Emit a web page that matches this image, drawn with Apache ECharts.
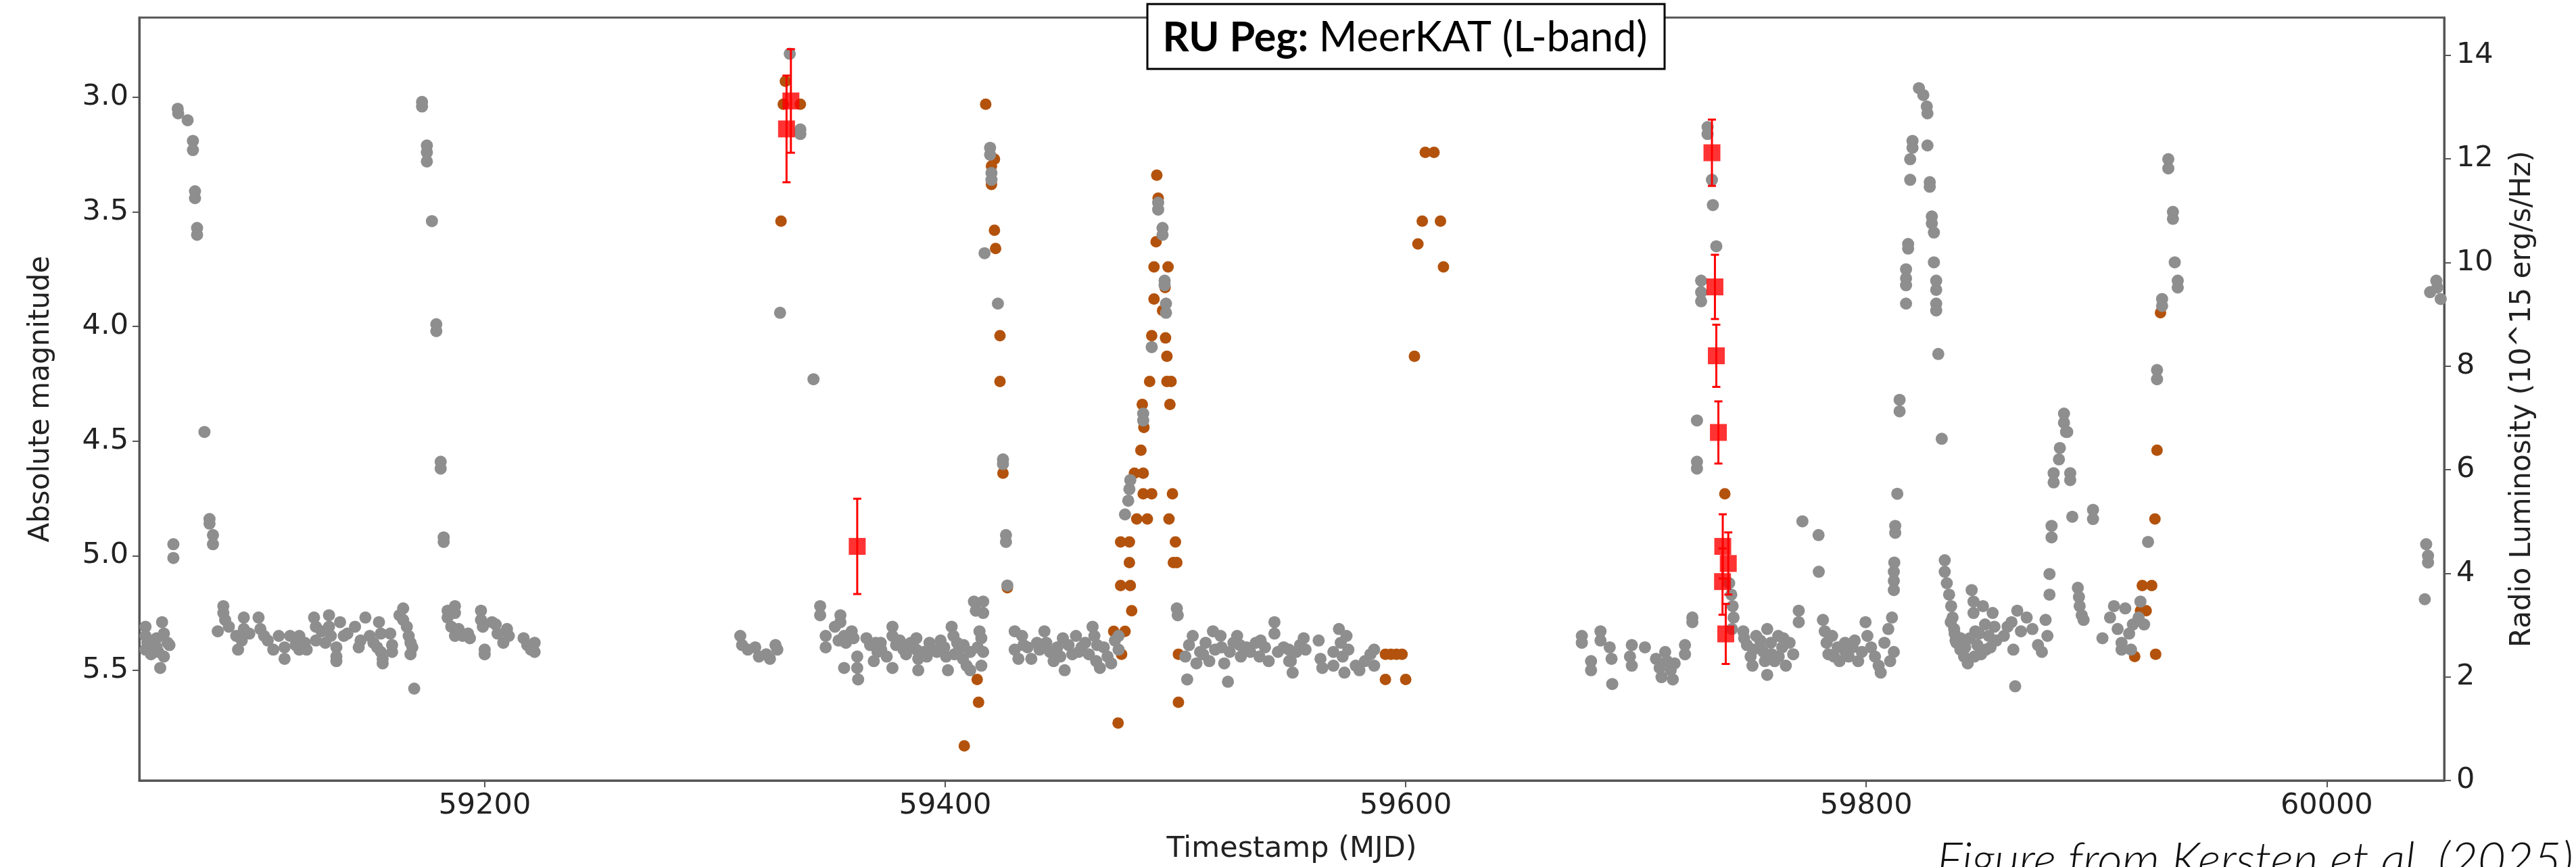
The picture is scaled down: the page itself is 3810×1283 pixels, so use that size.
<!DOCTYPE html>
<html>
<head>
<meta charset="utf-8">
<script src="https://cdn.jsdelivr.net/npm/echarts@6/dist/echarts.min.js"></script>
<style>
html,body{margin:0;padding:0;background:#fff;}
#chart{width:3810px;height:1283px;}
</style>
</head>
<body>
<div id="chart"></div>
<script>
// ---------------- data ----------------
const xTicks = [59200, 59400, 59600, 59800, 60000];
const magTicks = [3.0, 3.5, 4.0, 4.5, 5.0, 5.5];
const lumTicks = [0, 2, 4, 6, 8, 10, 12, 14];

// optical magnitudes (grey)
const grayPoints = [
[59066.7,3.05],[59066.9,3.07],[59071.0,3.10],[59073.3,3.19],[59073.3,3.23],[59074.2,3.41],[59074.2,3.44],[59075.1,3.57],[59075.1,3.60],[59078.3,4.46],[59080.5,4.84],[59080.5,4.86],[59082.0,4.91],[59082.0,4.95],[59064.8,4.95],[59064.8,5.01],
[59172.8,3.02],[59172.8,3.04],[59174.9,3.21],[59174.9,3.24],[59174.9,3.28],[59177.1,3.54],[59179.0,3.99],[59179.0,4.02],[59180.9,4.59],[59180.9,4.62],[59182.2,4.92],[59182.2,4.94],
[59052.7,5.31],[59052.7,5.35],[59053.5,5.38],[59052.7,5.41],[59055.1,5.43],[59057.5,5.36],[59057.5,5.40],[59058.3,5.42],
[59059.9,5.29],[59060.7,5.34],[59062.3,5.38],[59063.1,5.39],[59060.7,5.44],[59059.1,5.49],
[59084.1,5.33],[59086.5,5.22],[59086.5,5.25],[59087.3,5.28],[59088.9,5.31],[59092.1,5.35],[59092.9,5.41],[59095.4,5.27],[59095.4,5.32],[59094.5,5.37],[59097.8,5.34],
[59101.8,5.27],[59102.6,5.32],[59104.2,5.35],[59105.8,5.37],[59108.2,5.41],[59110.6,5.35],[59113.1,5.40],[59113.1,5.45],[59115.5,5.35],[59117.9,5.39],[59119.5,5.35],[59119.5,5.41],
[59121.9,5.38],[59122.7,5.41],[59125.9,5.27],[59126.7,5.31],[59126.7,5.37],[59129.2,5.33],[59130.8,5.38],[59132.4,5.26],[59132.4,5.31],[59133.2,5.35],[59135.6,5.40],[59135.6,5.44],[59135.6,5.46],
[59137.2,5.29],[59138.8,5.35],[59140.4,5.34],[59143.7,5.31],[59145.3,5.40],[59146.1,5.37],[59148.2,5.27],[59150.1,5.35],[59151.7,5.38],[59154.1,5.29],[59154.9,5.34],[59153.3,5.40],[59154.9,5.42],[59155.7,5.45],[59155.7,5.47],
[59159.0,5.34],[59159.8,5.39],[59159.8,5.42],[59163.0,5.26],[59164.6,5.23],[59164.6,5.28],[59166.2,5.31],[59167.0,5.35],[59167.8,5.38],[59168.6,5.40],[59167.8,5.43],[59169.4,5.58],
[59183.9,5.24],[59183.9,5.27],[59185.5,5.31],[59187.1,5.22],[59187.1,5.25],[59187.1,5.35],[59188.7,5.32],[59190.4,5.35],[59192.8,5.34],[59193.6,5.36],
[59198.4,5.24],[59198.4,5.28],[59199.2,5.31],[59200.0,5.41],[59200.0,5.43],[59203.2,5.29],[59204.8,5.30],[59205.6,5.34],[59208.1,5.38],[59209.7,5.32],[59210.5,5.35],
[59216.9,5.36],[59218.5,5.39],[59220.1,5.41],[59221.7,5.38],[59221.7,5.42],
[59332.5,2.81],[59337.1,3.14],[59337.1,3.16],[59328.3,3.94],[59342.8,4.23],
[59311.0,5.35],[59311.8,5.39],[59314.3,5.41],[59317.5,5.40],[59319.1,5.44],[59322.3,5.43],[59323.9,5.45],[59326.3,5.39],[59327.1,5.41],
[59345.7,5.22],[59345.7,5.26],[59348.1,5.35],[59348.1,5.40],[59352.1,5.31],[59354.5,5.26],[59354.5,5.29],[59353.7,5.37],[59356.1,5.35],[59356.9,5.38],[59359.4,5.33],[59360.2,5.36],
[59356.1,5.49],[59361.8,5.44],[59361.8,5.49],[59362.2,5.54],
[59365.8,5.36],[59367.4,5.39],[59369.8,5.38],[59370.6,5.42],[59369.0,5.46],[59372.2,5.41],[59374.6,5.44],[59377.1,5.31],[59377.1,5.35],[59377.1,5.49],[59378.7,5.39],[59380.3,5.37],
[59381.9,5.41],[59383.5,5.39],[59385.1,5.38],[59387.5,5.36],[59387.5,5.41],[59388.3,5.45],[59388.3,5.50],[59390.8,5.42],[59393.2,5.38],[59394.8,5.41],[59396.4,5.42],[59399.6,5.40],
[59400.4,5.44],[59401.2,5.50],[59402.8,5.31],[59403.6,5.35],[59405.2,5.38],[59406.0,5.41],[59407.7,5.45],[59409.3,5.48],[59410.9,5.42],[59410.9,5.50],[59412.5,5.20],[59413.3,5.24],
[59414.1,5.40],[59414.9,5.33],[59415.7,5.36],[59416.5,5.20],[59416.5,5.25],[59416.5,5.42],[59415.7,5.48],
[59372.0,5.38],[59383.0,5.43],[59392.0,5.44],[59398.0,5.37],[59404.0,5.43],[59408.0,5.39],
[59419.5,3.22],[59419.5,3.25],[59420.1,3.33],[59420.1,3.36],[59417.1,3.68],[59422.9,3.90],[59425.1,4.58],[59425.1,4.60],[59426.4,4.91],[59426.4,4.94],[59427.0,5.13],
[59430.2,5.33],[59430.2,5.41],[59431.8,5.45],[59433.4,5.35],[59435.8,5.40],[59437.4,5.45],[59439.9,5.38],[59443.1,5.33],[59443.9,5.38],[59445.5,5.42],[59447.1,5.46],[59448.7,5.40],
[59451.1,5.36],[59451.9,5.50],[59453.6,5.39],[59455.2,5.43],[59456.8,5.35],[59459.2,5.40],[59460.8,5.38],[59462.4,5.43],[59464.0,5.31],[59464.8,5.35],[59465.6,5.46],[59467.2,5.49],
[59468.9,5.40],[59470.5,5.44],[59472.1,5.47],[59473.7,5.37],[59475.3,5.35],[59475.3,5.41],
[59441.0,5.41],[59450.0,5.44],[59458.0,5.42],[59466.0,5.39],[59434.0,5.39],
[59480.4,4.67],[59480.0,4.71],[59479.5,4.76],[59478.1,4.82],[59486.0,4.38],[59486.0,4.41],
[59492.5,3.46],[59492.5,3.49],[59494.4,3.57],[59494.4,3.60],[59495.3,3.80],[59495.3,3.82],[59495.9,3.90],[59495.9,3.94],[59489.7,4.09],
[59500.6,5.23],[59501.0,5.26],
[59504.3,5.44],[59505.1,5.54],[59505.9,5.39],[59507.5,5.35],[59509.1,5.47],[59510.7,5.42],[59513.1,5.38],[59514.7,5.46],[59516.3,5.33],[59517.2,5.41],[59519.6,5.35],[59521.2,5.47],
[59522.8,5.55],[59523.6,5.42],[59525.2,5.38],[59526.8,5.35],[59528.4,5.44],[59530.9,5.40],[59532.5,5.42],[59534.9,5.38],[59536.5,5.44],[59538.9,5.40],[59540.5,5.46],[59543.0,5.29],
[59543.0,5.34],[59544.5,5.42],[59547.0,5.40],[59549.4,5.46],[59512.0,5.43],[59520.0,5.40],[59528.0,5.39],[59537.0,5.37],
[59549.3,5.41],[59550.1,5.46],[59550.9,5.51],[59552.5,5.42],[59554.1,5.39],[59555.7,5.36],[59556.5,5.41],[59562.2,5.37],[59563.0,5.45],[59563.8,5.49],
[59568.6,5.42],[59568.6,5.48],[59571.0,5.32],[59571.8,5.38],[59572.6,5.44],[59573.4,5.51],[59574.3,5.35],[59575.1,5.41],
[59578.3,5.48],[59579.9,5.50],[59582.3,5.46],[59584.7,5.43],[59586.3,5.41],[59586.3,5.48],
[59676.5,5.35],[59676.5,5.38],[59684.6,5.33],[59684.6,5.37],[59680.5,5.46],[59680.5,5.50],[59688.6,5.40],[59689.4,5.45],[59689.7,5.56],[59697.4,5.44],[59698.2,5.48],[59698.2,5.39],[59703.9,5.40],
[59708.7,5.45],[59710.3,5.49],[59711.1,5.53],[59712.7,5.42],[59713.5,5.46],[59715.1,5.50],[59716.0,5.54],[59716.8,5.47],[59721.3,5.39],[59721.3,5.43],[59724.5,5.27],[59724.5,5.29],
[59731.1,3.13],[59731.1,3.16],[59733.0,3.36],[59733.4,3.47],[59734.9,3.65],[59728.3,3.80],[59728.3,3.85],[59728.3,3.89],[59726.5,4.41],[59726.5,4.59],[59726.5,4.62],
[59740.5,5.12],[59741.4,5.17],[59742.0,5.22],[59742.4,5.27],[59741.7,5.32],
[59746.6,5.33],[59748.2,5.39],[59749.8,5.44],[59750.6,5.48],[59752.2,5.35],[59753.8,5.40],[59755.4,5.42],[59757.0,5.32],[59757.0,5.52],[59758.6,5.38],[59760.2,5.46],[59761.8,5.35],
[59763.5,5.40],[59765.1,5.48],[59766.7,5.38],[59768.3,5.43],[59770.7,5.24],[59770.7,5.29],
[59751.0,5.41],[59756.0,5.46],[59759.0,5.43],[59762.0,5.44],[59764.0,5.36],[59747.0,5.36],[59754.0,5.37],
[59772.3,4.85],[59779.3,4.91],[59779.4,5.07],
[59781.2,5.28],[59782.0,5.33],[59782.8,5.38],[59783.6,5.43],[59785.2,5.35],[59787.6,5.40],[59788.4,5.46],[59790.8,5.38],[59792.4,5.44],[59794.1,5.40],[59796.5,5.46],[59798.1,5.42],[59799.7,5.29],
[59786.0,5.44],[59791.0,5.42],[59795.0,5.37],
[59800.5,5.35],[59802.1,5.40],[59803.8,5.44],[59805.4,5.48],[59806.3,5.51],[59807.9,5.38],[59809.6,5.32],[59811.2,5.27],[59812.0,5.42],[59810.4,5.46],
[59812.0,5.07],[59812.0,5.11],[59812.0,5.15],[59813.5,4.73],[59812.6,4.87],[59812.6,4.90],[59812.2,5.03],[59814.5,4.32],[59814.5,4.37],
[59822.9,2.96],[59824.8,2.99],[59826.3,3.04],[59826.6,3.07],[59820.1,3.19],[59820.1,3.22],[59819.1,3.27],[59826.6,3.21],[59819.1,3.36],[59827.6,3.37],[59827.6,3.39],[59828.5,3.52],
[59828.5,3.55],[59829.4,3.59],[59818.2,3.64],[59818.2,3.66],[59829.4,3.72],[59817.3,3.75],[59817.3,3.79],[59817.3,3.82],[59830.4,3.80],[59830.4,3.84],[59817.3,3.90],[59830.4,3.90],
[59830.4,3.93],[59831.3,4.12],[59832.8,4.49],
[59834.1,5.02],[59834.1,5.07],[59835.0,5.12],[59836.0,5.17],[59836.9,5.22],[59837.5,5.27],[59838.2,5.32],[59838.8,5.37],
[59836.7,5.29],[59838.4,5.34],[59839.2,5.38],[59840.9,5.41],[59842.5,5.44],[59844.1,5.47],[59845.8,5.15],[59846.6,5.20],[59846.6,5.25],[59847.4,5.33],[59848.3,5.39],[59849.9,5.43],
[59850.7,5.22],[59851.6,5.30],[59853.2,5.35],[59854.9,5.25],[59855.7,5.31],[59856.5,5.37],[59854.0,5.40],
[59841.0,5.36],[59843.0,5.40],[59845.0,5.36],[59849.0,5.34],[59852.0,5.41],[59847.0,5.44],
[59859.8,5.35],[59861.4,5.31],[59863.1,5.29],[59863.9,5.41],[59865.6,5.24],[59867.2,5.33],[59869.7,5.27],[59872.2,5.32],[59874.6,5.39],[59876.3,5.42],[59877.9,5.28],[59878.7,5.35],
[59864.7,5.57],[59879.6,5.08],[59879.6,5.17],
[59891.9,5.14],[59892.4,5.18],[59892.7,5.22],[59893.6,5.26],[59894.4,5.28],
[59902.6,5.36],[59905.9,5.27],[59907.6,5.22],[59909.2,5.32],[59910.9,5.38],[59910.9,5.41],[59912.5,5.23],[59914.2,5.34],[59915.8,5.30],[59918.3,5.27],[59919.1,5.20],[59920.7,5.30],[59915.0,5.41],
[59884.1,4.53],[59883.7,4.58],[59881.4,4.64],[59881.4,4.68],[59887.3,4.46],[59888.6,4.64],[59888.6,4.67],[59889.5,4.83],[59898.5,4.80],[59898.5,4.84],[59880.5,4.87],[59880.5,4.92],
[59885.9,4.38],[59885.9,4.42],[59886.8,4.46],
[59926.3,4.19],[59926.3,4.23],[59928.5,3.88],[59928.5,3.91],[59931.2,3.27],[59931.2,3.31],[59933.2,3.50],[59933.2,3.53],[59934.0,3.72],[59935.3,3.80],[59935.3,3.83],[59922.4,4.94],
[60044.9,3.85],[60047.6,3.80],[60048.0,3.83],[60049.5,3.88],[60043.2,4.95],[60044.0,5.00],[60044.0,5.03],[60042.6,5.19]
];

// optical magnitudes (orange)
const orangePoints = [
[59330.6,2.93],[59329.7,3.03],[59337.1,3.03],[59328.7,3.54],
[59417.6,3.03],[59421.4,3.27],[59420.1,3.30],[59420.1,3.38],[59421.4,3.58],[59421.9,3.66],[59423.8,4.04],[59423.8,4.24],[59425.1,4.64],[59427.0,5.14],[59413.9,5.54],[59414.5,5.64],[59408.3,5.83],
[59491.9,3.34],[59492.5,3.44],[59491.6,3.63],[59490.7,3.74],[59496.8,3.74],[59495.5,3.83],[59490.7,3.88],[59494.4,3.93],[59489.7,4.04],[59495.7,4.05],[59496.3,4.13],[59488.8,4.24],
[59496.3,4.24],[59498.1,4.24],[59485.6,4.34],[59497.6,4.34],[59486.3,4.44],[59485.0,4.54],[59482.2,4.64],[59486.0,4.64],[59486.0,4.73],[59489.7,4.73],[59498.7,4.73],[59483.2,4.84],
[59487.8,4.84],[59497.2,4.84],[59476.2,4.94],[59480.0,4.94],[59500.0,4.94],[59480.0,5.03],[59499.1,5.03],[59500.6,5.03],[59476.2,5.13],[59480.4,5.13],[59481.0,5.24],[59473.2,5.33],
[59478.1,5.33],[59476.6,5.43],[59501.3,5.43],[59501.3,5.64],[59475.1,5.73],
[59608.5,3.24],[59612.3,3.24],[59607.2,3.54],[59615.1,3.54],[59605.3,3.64],[59616.4,3.74],[59603.8,4.13],
[59591.2,5.43],[59593.6,5.43],[59596.0,5.43],[59598.4,5.43],[59591.2,5.54],[59600.0,5.54],
[59738.6,4.73],
[59927.8,3.94],[59926.3,4.54],[59925.4,4.84],[59919.9,5.13],[59924.0,5.13],[59919.1,5.24],[59921.6,5.24],[59916.6,5.44],[59925.7,5.43]
];

// MeerKAT radio luminosity (10^15 erg/s/Hz)
const radioMjd = [59331.1, 59333.0, 59361.8, 59733.0, 59734.3, 59734.9, 59735.8, 59737.7, 59740.1, 59737.6, 59739.0];
const radioLum = [12.58, 13.12, 4.52, 12.12, 9.53, 8.20, 6.72, 4.52, 4.19, 3.84, 2.83];
const radioErr = [1.03, 1.00, 0.92, 0.64, 0.62, 0.60, 0.60, 0.62, 0.60, 0.64, 0.58];

// ---------------- chart ----------------
const radioData = radioMjd.map((m, i) => [m, radioLum[i], radioErr[i]]);
const AX = '#555555';
const TXT = '#222222';
const FF = 'DejaVu Sans';

const chart = echarts.init(document.getElementById('chart'), null, {renderer: 'canvas'});
chart.setOption({
  animation: false,
  backgroundColor: '#ffffff',
  grid: {left: 206, right: 195, top: 26, bottom: 127, show: true, borderColor: AX, borderWidth: 3, backgroundColor: 'transparent'},
  xAxis: {
    type: 'value', min: 59050, max: 60051,
    axisLine: {show: true, lineStyle: {color: AX, width: 3}},
    axisTick: {show: true, length: 10, lineStyle: {color: AX, width: 2}, customValues: xTicks},
    axisLabel: {customValues: xTicks, fontSize: 43, color: TXT, fontFamily: FF, margin: 16,
      formatter: v => String(Math.round(v))},
    splitLine: {show: false},
    name: 'Timestamp (MJD)', nameLocation: 'middle', nameGap: 80,
    nameTextStyle: {fontSize: 43, color: TXT, fontFamily: FF}
  },
  yAxis: [{
    type: 'value', inverse: true, min: 2.652, max: 5.981, position: 'left',
    axisLine: {show: true, lineStyle: {color: AX, width: 3}},
    axisTick: {show: true, length: 10, lineStyle: {color: AX, width: 2}, customValues: magTicks},
    axisLabel: {customValues: magTicks, fontSize: 43, color: TXT, fontFamily: FF, margin: 16,
      formatter: v => Number(v).toFixed(1)},
    splitLine: {show: false},
    name: 'Absolute magnitude', nameLocation: 'middle', nameGap: 124,
    nameTextStyle: {fontSize: 42, color: TXT, fontFamily: FF}
  }, {
    type: 'value', min: 0, max: 14.73, position: 'right',
    axisLine: {show: true, lineStyle: {color: AX, width: 3}},
    axisTick: {show: true, length: 10, lineStyle: {color: AX, width: 2}, customValues: lumTicks},
    axisLabel: {customValues: lumTicks, fontSize: 43, color: TXT, fontFamily: FF, margin: 18,
      formatter: v => String(Math.round(v))},
    splitLine: {show: false},
    name: 'Radio Luminosity (10^15 erg/s/Hz)', nameLocation: 'middle', nameGap: 95,
    nameTextStyle: {fontSize: 42, color: TXT, fontFamily: FF}
  }],
  series: [{
    type: 'scatter', name: 'orange', data: orangePoints, yAxisIndex: 0,
    symbol: 'circle', symbolSize: 17, itemStyle: {color: '#b3520c', opacity: 1}, z: 2, silent: true
  }, {
    type: 'scatter', name: 'grey', data: grayPoints, yAxisIndex: 0,
    symbol: 'circle', symbolSize: 18, itemStyle: {color: '#8e8e8e', opacity: 1}, z: 3, silent: true
  }, {
    type: 'custom', name: 'err', data: radioData, yAxisIndex: 1, z: 4, silent: true,
    encode: {x: 0, y: 1},
    renderItem: function (params, api) {
      const x = api.value(0), y = api.value(1), e = api.value(2);
      const t = api.coord([x, y + e]);
      const b = api.coord([x, y - e]);
      const c = 6;
      const st = {stroke: '#ff0000', lineWidth: 3};
      return {type: 'group', children: [
        {type: 'line', shape: {x1: t[0], y1: t[1], x2: b[0], y2: b[1]}, style: st},
        {type: 'line', shape: {x1: t[0] - c, y1: t[1], x2: t[0] + c, y2: t[1]}, style: st},
        {type: 'line', shape: {x1: b[0] - c, y1: b[1], x2: b[0] + c, y2: b[1]}, style: st}
      ]};
    }
  }, {
    type: 'scatter', name: 'radio', data: radioData, yAxisIndex: 1,
    symbol: 'rect', symbolSize: 25, itemStyle: {color: '#ff0000'}, z: 5, silent: true
  }],
  graphic: [
    {type: 'rect', shape: {x: 1697, y: 6, width: 765, height: 96},
     style: {fill: '#ffffff', stroke: '#000000', lineWidth: 3}, z: 100},
    {type: 'text', x: 2078, y: 56, z: 101,
     style: {text: '{b|RU Peg:} MeerKAT (L-band)', fontSize: 61, fontFamily: 'Lato', fill: '#000',
       align: 'center', verticalAlign: 'middle',
       rich: {b: {fontWeight: 'bold', fontSize: 61, fontFamily: 'Lato', fill: '#000'}}}},
    {type: 'text', x: 3806, y: 1239, z: 101,
     style: {text: 'Figure from Kersten et al. (2025)', fontSize: 71, fontFamily: 'Lato', fontStyle: 'italic',
       fontWeight: 300, fill: '#111', align: 'right', verticalAlign: 'top'}}
  ]
});
</script>
</body>
</html>
